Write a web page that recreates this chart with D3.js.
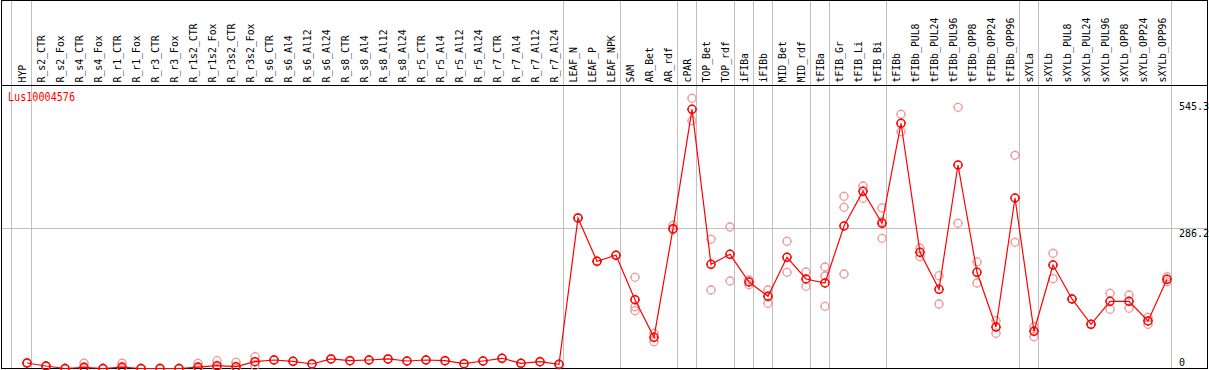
<!DOCTYPE html>
<html>
<head>
<meta charset="utf-8">
<script src="https://cdnjs.cloudflare.com/ajax/libs/d3/7.8.5/d3.min.js"></script>
<style>
  body { margin: 0; background: #fff; }
  svg { display: block; }
</style>
</head>
<body>
<div id="wrapper"></div>
<script>
let geneName = "Lus10004576";

let samples = [
  "HYP",
  "R_s2_CTR", "R_s2_Fox", "R_s4_CTR", "R_s4_Fox", "R_r1_CTR", "R_r1_Fox",
  "R_r3_CTR", "R_r3_Fox", "R_r1s2_CTR", "R_r1s2_Fox", "R_r3s2_CTR", "R_r3s2_Fox",
  "R_s6_CTR", "R_s6_Al4", "R_s6_Al12", "R_s6_Al24",
  "R_s8_CTR", "R_s8_Al4", "R_s8_Al12", "R_s8_Al24",
  "R_r5_CTR", "R_r5_Al4", "R_r5_Al12", "R_r5_Al24",
  "R_r7_CTR", "R_r7_Al4", "R_r7_Al12", "R_r7_Al24",
  "LEAF_N", "LEAF_P", "LEAF_NPK",
  "SAM", "AR_Bet", "AR_rdf", "cPAR", "TOP_Bet", "TOP_rdf",
  "iFIBa", "iFIBb", "MID_Bet", "MID_rdf",
  "tFIBa", "tFIB_Gr", "tFIB_Li", "tFIB_Bi", "tFIBb",
  "tFIBb_PUL8", "tFIBb_PUL24", "tFIBb_PUL96", "tFIBb_OPP8", "tFIBb_OPP24", "tFIBb_OPP96",
  "sXYLa", "sXYLb",
  "sXYLb_PUL8", "sXYLb_PUL24", "sXYLb_PUL96", "sXYLb_OPP8", "sXYLb_OPP24", "sXYLb_OPP96"
];

// last sample of each group -> a grey separator after it
let groupEnds = [
  "HYP", "R_r7_Al24", "LEAF_NPK", "AR_rdf", "cPAR", "TOP_rdf", "iFIBa", "iFIBb",
  "MID_rdf", "tFIBa", "tFIB_Bi", "tFIBb_OPP96", "sXYLa", "sXYLb_OPP96"
];

let means = [
  11.2,
  5.1, 0, 2.4, 0, 3, 0,
  0, 0, 3, 5.7, 3.7, 13.9,
  17.3, 14.7, 9.2, 19.4,
  15.9, 17.3, 19.4, 15.3,
  17.3, 15.9, 9.8, 15.3,
  20.8, 10.6, 13.9, 8.6,
  306.6, 218.4, 230.6,
  140.2, 63.5, 284.8, 528, 212.3, 232.6,
  176.2, 147, 226.5, 182.3,
  174.2, 290.3, 361, 295.8, 499.5,
  236.7, 161.3, 414.5, 196, 84.5, 347.3,
  75.8, 210.8,
  141.6, 90, 136.9, 136.9, 96.8, 181.7
];

let replicates = [
  [12, 10.5],
  [5.5, 4.5], [0, 0], [11, 0], [0, 0], [11, 0], [0, 0],
  [0, 0], [0, 0], [10.6, 0], [15.9, 1], [12.6, 0], [24, 5.7],
  [17.3], [14.7], [9.2], [19.4],
  [15.9], [17.3], [19.4], [15.3],
  [17.3], [15.9], [9.8], [15.3],
  [20.8], [10.6], [13.9], [8.6],
  [306.6], [218.4], [230.6],
  [185.8, 125.9, 117.7], [71.7, 54.6], [291.7, 282], [550.4, 504.8], [263.2, 159.9], [288.2, 178.2],
  [180.3, 170.7], [159.9, 132.8], [259.1, 196], [196.6, 167.4],
  [206.8, 188.4, 126.7], [350.8, 328.4, 192.5], [371.8, 346.7], [327, 265.2, 299], [517.8, 482.4],
  [244.9, 227.7], [189, 131.4], [532, 295.8], [217, 174.2], [97.4, 71.7], [434.3, 257.1],
  [85.2, 64.8], [234.7, 183],
  [141.6], [90], [153.2, 120.6], [149.7, 122.6], [104.3, 90], [187, 176.8]
];

let yTicks = [545.3, 286.2, 0];
let yGrid = [286.2];

let dimensions = {
  width: 1209,
  height: 370,
  headerBottom: 85.5,
  plotBottom: 368.5,
  left: 1.5,
  right: 1207.5,
  firstX: 27,
  lastX: 1167
};

function drawChart() {
  let wrapper = d3
    .select("#wrapper")
    .append("svg")
    .attr("width", dimensions.width)
    .attr("height", dimensions.height);

  let xScale = d3
    .scalePoint()
    .domain(samples)
    .range([dimensions.firstX, dimensions.lastX]);

  let yScale = d3
    .scaleLinear()
    .domain([0, 545.3])
    .range([dimensions.plotBottom, 100.8]);

  // grid
  let grid = wrapper.append("g").attr("shape-rendering", "crispEdges");

  let separators = [xScale(samples[0]) - 16].concat(
    groupEnds.map(s => xScale(s) + 3.5)
  );

  grid
    .selectAll("line.vsep")
    .data(separators)
    .join("line")
    .attr("class", "vsep")
    .attr("x1", d => Math.round(d) + 0.5)
    .attr("x2", d => Math.round(d) + 0.5)
    .attr("y1", 0)
    .attr("y2", dimensions.plotBottom)
    .attr("stroke", "#c0c0c0")
    .attr("stroke-width", 1);

  grid
    .selectAll("line.hgrid")
    .data(yGrid)
    .join("line")
    .attr("class", "hgrid")
    .attr("x1", dimensions.left)
    .attr("x2", dimensions.right)
    .attr("y1", d => Math.round(yScale(d)) + 0.5)
    .attr("y2", d => Math.round(yScale(d)) + 0.5)
    .attr("stroke", "#c0c0c0")
    .attr("stroke-width", 1);

  // frame
  let frame = wrapper.append("g").attr("shape-rendering", "crispEdges");
  frame
    .append("rect")
    .attr("x", dimensions.left)
    .attr("y", 0.5)
    .attr("width", dimensions.right - dimensions.left)
    .attr("height", dimensions.plotBottom - 0.5)
    .attr("fill", "none")
    .attr("stroke", "black");
  frame
    .append("line")
    .attr("x1", dimensions.left)
    .attr("x2", dimensions.right)
    .attr("y1", dimensions.headerBottom)
    .attr("y2", dimensions.headerBottom)
    .attr("stroke", "black");

  // sample labels (rotated)
  wrapper
    .append("g")
    .selectAll("text")
    .data(samples)
    .join("text")
    .attr("transform", d => `translate(${xScale(d) - 1.5}, 82.5) rotate(-90)`)
    .attr("font-family", "DejaVu Sans Mono, monospace")
    .attr("font-size", "9.8px")
    .attr("fill", "black")
    .text(d => d);

  // right tick labels
  wrapper
    .append("g")
    .selectAll("text")
    .data(yTicks)
    .join("text")
    .attr("x", 1179)
    .attr("y", d => Math.min(yScale(d) + 9, 366))
    .attr("font-family", "DejaVu Sans Mono, monospace")
    .attr("font-size", "10px")
    .attr("fill", "black")
    .text(d => d);

  // gene name
  wrapper
    .append("text")
    .attr("x", 8)
    .attr("y", 101)
    .attr("font-family", "DejaVu Sans Mono, monospace")
    .attr("font-size", "12px")
    .attr("textLength", 67)
    .attr("lengthAdjust", "spacingAndGlyphs")
    .attr("fill", "#ff0000")
    .text(geneName);

  let marker = "M0,-5V-3.5M0,3.5V5M-5,0H-3.5M3.5,0H5";

  // replicate points
  let repPoints = [];
  samples.forEach((s, i) => {
    replicates[i].forEach(v => repPoints.push({ sample: s, value: v }));
  });

  let reps = wrapper
    .append("g")
    .selectAll("g")
    .data(repPoints)
    .join("g")
    .attr("transform", d => `translate(${xScale(d.sample)}, ${yScale(d.value)})`);
  reps
    .append("circle")
    .attr("r", 4)
    .attr("fill", "none")
    .attr("stroke", "#ef9a9a")
    .attr("stroke-width", 1.3);
  reps
    .append("path")
    .attr("d", marker)
    .attr("stroke", "#ef9a9a")
    .attr("stroke-width", 1);

  // mean line
  let lineGenerator = d3
    .line()
    .x((d, i) => xScale(samples[i]))
    .y(d => yScale(d));

  wrapper
    .append("path")
    .datum(means)
    .attr("d", lineGenerator)
    .attr("fill", "none")
    .attr("stroke", "#ff0000")
    .attr("stroke-width", 1.2);

  let dots = wrapper
    .append("g")
    .selectAll("g")
    .data(means)
    .join("g")
    .attr("transform", (d, i) => `translate(${xScale(samples[i])}, ${yScale(d)})`);
  dots
    .append("circle")
    .attr("r", 4)
    .attr("fill", "none")
    .attr("stroke", "#ff0000")
    .attr("stroke-width", 1.5);
  dots
    .append("path")
    .attr("d", marker)
    .attr("stroke", "#ff0000")
    .attr("stroke-width", 1);
}

drawChart();
</script>
</body>
</html>
